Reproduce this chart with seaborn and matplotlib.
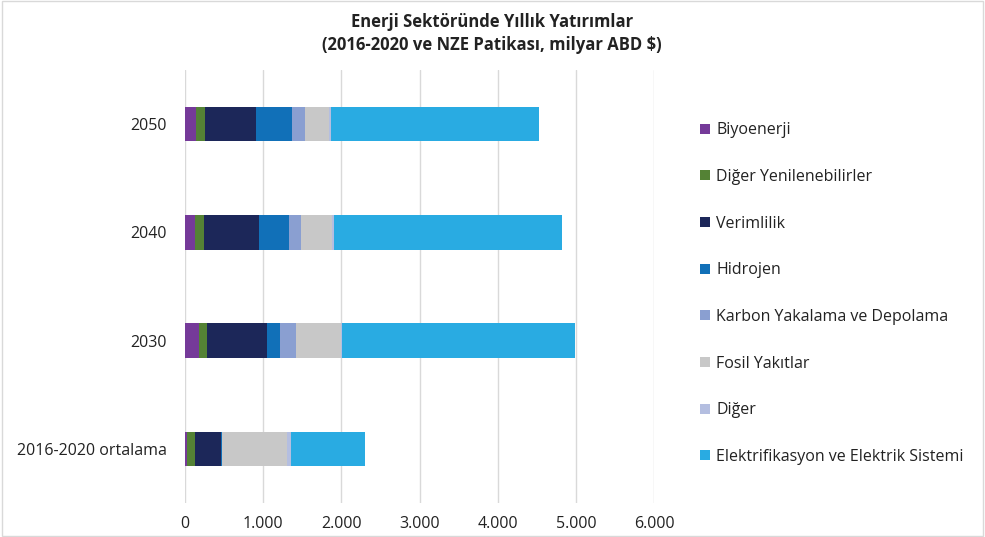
import matplotlib.pyplot as plt
from matplotlib.patches import Patch, Rectangle
import matplotlib.ticker as mticker
import numpy as np
import pandas as pd
import seaborn as sns

# values (milyar ABD $)
years = ['2050', '2040', '2030', '2016-2020 ortalama']
series = ['Biyoenerji', 'Diğer Yenilenebilirler', 'Verimlilik', 'Hidrojen',
          'Karbon Yakalama ve Depolama', 'Fosil Yakıtlar', 'Diğer',
          'Elektrifikasyon ve Elektrik Sistemi']
biyoenerji = [145, 132, 183, 30]
diger_yen = [115, 111, 98, 98]
verimlilik = [643, 702, 770, 332]
hidrojen = [468, 387, 166, 9]
ccs = [166, 153, 209, 5]
fosil = [302, 400, 570, 834]
diger = [26, 21, 13, 51]
elektrik = [2668, 2923, 2974, 940]
colors = ['#753A99', '#548235', '#1C2759', '#1170B8',
          '#8A9FD1', '#C8C8C8', '#B4BEE0', '#29ABE2']

values = np.array([biyoenerji, diger_yen, verimlilik, hidrojen,
                   ccs, fosil, diger, elektrik])
cum = values.cumsum(axis=0)

sns.set_theme(style='white')
plt.rcParams['font.family'] = ['Open Sans', 'DejaVu Sans']

fig = plt.figure(figsize=(9.85, 5.37), dpi=100)
ax = fig.add_axes([185 / 985, 1 - 503 / 537, 469 / 985, 433 / 537])

# draw cumulative totals from the largest down so segments show as a stack
for i in range(len(series) - 1, -1, -1):
    df = pd.DataFrame({'yil': years, 'deger': cum[i]})
    sns.barplot(data=df, x='deger', y='yil', order=years, color=colors[i],
                width=0.32, saturation=1, linewidth=0, ax=ax, zorder=3)

ax.set_xlim(0, 6000)
ax.set_xticks(np.arange(0, 6001, 1000))
ax.xaxis.set_major_formatter(mticker.FuncFormatter(lambda v, p: f'{int(v):,}'.replace(',', '.')))
ax.grid(axis='x', color='#D9D9D9', linewidth=1, zorder=0)
ax.set_axisbelow(True)
for s in ax.spines.values():
    s.set_visible(False)
ax.set_xlabel('')
ax.set_ylabel('')
ax.tick_params(axis='both', length=0, labelsize=11.5, colors='#222222')
ax.tick_params(axis='x', pad=9)
ax.tick_params(axis='y', pad=13)

fig.text(492 / 985, 1 - 22 / 537, 'Enerji Sektöründe Yıllık Yatırımlar',
         ha='center', va='center', fontsize=12, fontweight='bold', color='#222222')
fig.text(492 / 985, 1 - 45 / 537, '(2016-2020 ve NZE Patikası, milyar ABD $)',
         ha='center', va='center', fontsize=12, fontweight='bold', color='#222222')

handles = [Patch(facecolor=c, edgecolor='none') for c in colors]
leg = fig.legend(handles, series, loc='upper left',
                 bbox_to_anchor=(686 / 985, 1 - 108 / 537), frameon=False,
                 fontsize=11.5, handlelength=0.6, handleheight=0.6,
                 handletextpad=0.4, labelspacing=1.92)
for t in leg.get_texts():
    t.set_color('#222222')

fig.patches.append(Rectangle((0.002, 0.002), 0.996, 0.996, transform=fig.transFigure,
                             fill=False, edgecolor='#D9D9D9', linewidth=1))

fig.savefig('out.png', dpi=100)
